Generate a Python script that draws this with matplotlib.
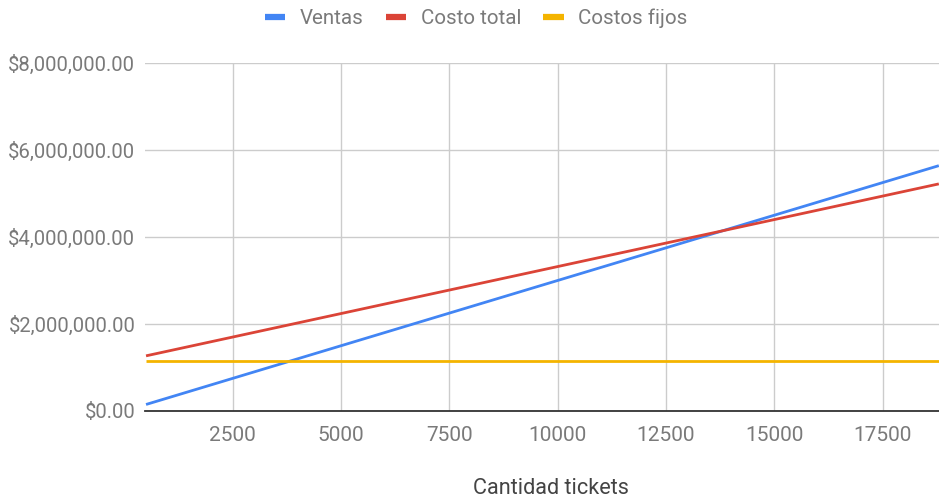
import matplotlib
matplotlib.use("Agg")
import matplotlib.pyplot as plt
from matplotlib.ticker import FuncFormatter, MultipleLocator

# punto de equilibrio: precio 300 por ticket, costo variable 216, fijos 1.16M
tickets = [500, 2500, 5000, 7500, 10000, 12500, 15000, 17500, 18800]
ventas = [150000, 750000, 1500000, 2250000, 3000000, 3750000, 4500000, 5250000, 5640000]
costo_total = [1268000, 1700000, 2240000, 2780000, 3320000, 3860000, 4400000, 4940000, 5220800]
costos_fijos = [1160000, 1160000, 1160000, 1160000, 1160000, 1160000, 1160000, 1160000, 1160000]

plt.rcParams['font.family'] = ['Roboto', 'DejaVu Sans']

fig = plt.figure(figsize=(9.39, 4.97), dpi=100)
ax = fig.add_axes([145/939, 1-411/497, 1-145/939, (411-63)/497])

ax.plot(tickets, ventas, color='#4285F4', lw=2.0, label='Ventas', solid_capstyle='butt')
ax.plot(tickets, costo_total, color='#DB4437', lw=2.0, label='Costo total', solid_capstyle='butt')
ax.plot(tickets, costos_fijos, color='#F4B400', lw=2.0, label='Costos fijos', solid_capstyle='butt')

ax.set_xlim(476, 18804)
ax.set_ylim(0, 8000000)
ax.xaxis.set_major_locator(MultipleLocator(2500))
ax.yaxis.set_major_locator(MultipleLocator(2000000))
ax.yaxis.set_major_formatter(FuncFormatter(lambda v, p: '${:,.2f}'.format(v)))

ax.grid(True, color='#cccccc', lw=1)
ax.set_axisbelow(True)
for s in ['top', 'right', 'left']:
    ax.spines[s].set_visible(False)
ax.spines['bottom'].set_color('#333333')
ax.spines['bottom'].set_linewidth(1.3)
ax.spines['bottom'].set_zorder(5)

ax.tick_params(axis='both', length=0, labelcolor='#7a7a7a')
ax.tick_params(axis='x', pad=11, labelsize=15)
ax.tick_params(axis='y', pad=7, labelsize=14.6)

fig.text(551/939, 1-488/497, 'Cantidad tickets', ha='center', va='center',
         fontsize=15.6, color='#444444')

leg = fig.legend(loc='center', bbox_to_anchor=(476/939, 1-18/497), ncol=3, frameon=False,
                 fontsize=14.8, labelcolor='#7a7a7a', handlelength=1.0,
                 handletextpad=0.7, columnspacing=1.08)
for h in leg.get_lines():
    h.set_linewidth(4.5)

fig.savefig('out.png', dpi=100)
